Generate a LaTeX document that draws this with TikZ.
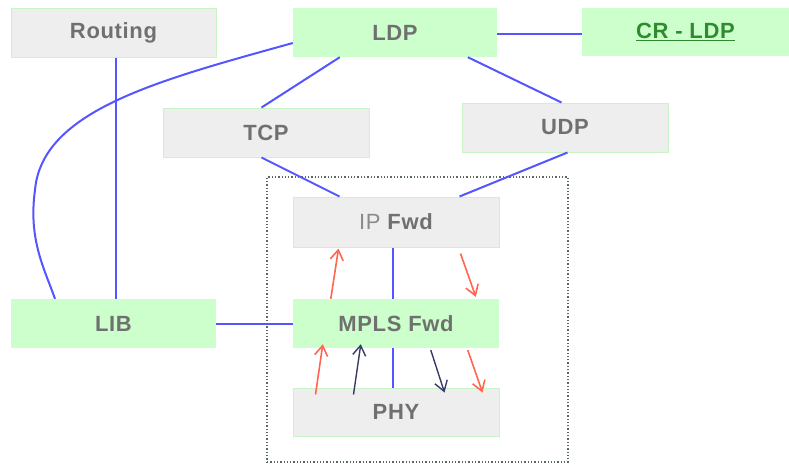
\documentclass[tikz,border=0pt]{standalone}
\usepackage{fontspec}
\setmainfont{Liberation Sans}
\usetikzlibrary{arrows.meta,calc}
\definecolor{boxgray}{HTML}{EEEEEE}
\definecolor{boxgreen}{HTML}{CCFFCC}
\definecolor{edgegreen}{HTML}{C8F5C8}
\definecolor{txtgray}{HTML}{707070}
\definecolor{lnblue}{HTML}{5555FF}
\definecolor{arred}{HTML}{FF6650}
\definecolor{arnavy}{HTML}{3A3A6A}
\definecolor{crgreen}{HTML}{2E8B2E}
\definecolor{framecol}{HTML}{5A6A5A}
\tikzset{
  basebox/.style={rectangle, inner sep=0pt, minimum width=205pt, minimum height=49pt,
    font=\fontsize{22}{26}\selectfont\bfseries\addfontfeatures{LetterSpace=3}, text=txtgray},
  graybox/.style={basebox, fill=boxgray, draw=edgegreen, line width=1pt},
  greenbox/.style={basebox, fill=boxgreen},
  link/.style={draw=lnblue, line width=2pt},
  redarrow/.style={draw=arred, line width=1.6pt, -{Straight Barb[length=10pt,width=13pt]}},
  navyarrow/.style={draw=arnavy, line width=1.4pt, -{Straight Barb[length=10pt,width=13pt]}},
  framebox/.style={rectangle, draw=framecol, dotted, line width=1.3pt, inner sep=0pt}
}
\begin{document}
\begin{tikzpicture}[x=1pt,y=-1pt]
\useasboundingbox (0,0) rectangle (789,463);
\node[framebox, minimum width=301pt, minimum height=285pt] (frame) at (417.5,319.5) {};
\node[graybox] (Routing) at (113.5,32.5) {Routing};
\node[greenbox, minimum width=204pt] (LDP) at (395,32.5) {LDP};
\node[greenbox, minimum width=207pt, minimum height=48pt, text=crgreen] (CRLDP) at (685.5,32) {\underline{CR - LDP}};
\node[graybox, minimum width=206pt] (TCP) at (266,132.5) {TCP};
\node[graybox, minimum width=206pt] (UDP) at (565,127.5) {UDP};
\node[graybox, minimum width=206pt, minimum height=50pt] (IP) at (396,222) {{\mdseries\color[HTML]{8A8A8A}IP} Fwd};
\node[greenbox, minimum width=206pt] (MPLS) at (396,323.5) {MPLS Fwd};
\node[graybox, minimum width=206pt, minimum height=48pt] (PHY) at (396,412) {PHY};
\node[greenbox] (LIB) at (113.5,323.5) {LIB};

% connectors
\draw[link] ($(Routing.south)+(2.5,0)$) -- ($(LIB.north)+(2.5,0)$);
\draw[link] ($(LDP.west)+(0,10.5)$) .. controls (160,80) and (42,110) .. (35,190)
   .. controls (28,240) and (45,270) .. ($(LIB.north)+(-58.5,0)$);
\draw[link] ($(LDP.south west)+(47,0)$) -- ($(TCP.north west)+(99,0)$);
\draw[link] ($(LDP.south west)+(175,0)$) -- ($(UDP.north west)+(100,0)$);
\draw[link] ($(LDP.east)+(0,1.5)$) -- ($(CRLDP.west)+(0,2)$);
\draw[link] ($(TCP.south west)+(99,0)$) -- ($(IP.north west)+(47,0)$);
\draw[link] ($(UDP.south west)+(106,0)$) -- ($(IP.north west)+(167,0)$);
\draw[link] ($(IP.south)+(-3,0)$) -- ($(MPLS.north)+(-3,0)$);
\draw[link] ($(MPLS.south)+(-3,0)$) -- ($(PHY.north)+(-3,0)$);
\draw[link] (LIB.east) -- (MPLS.west);

% arrows
\draw[redarrow] ($(MPLS.north west)+(38,0)$) -- ($(IP.south west)+(46,1)$);
\draw[redarrow] ($(IP.south west)+(168,6)$) -- ($(MPLS.north west)+(183,-2)$);
\draw[redarrow] ($(PHY.north west)+(23,7)$) -- ($(MPLS.south west)+(30,-4)$);
\draw[navyarrow] ($(PHY.north west)+(61,7)$) -- ($(MPLS.south west)+(68,-4)$);
\draw[navyarrow] ($(MPLS.south west)+(138,2)$) -- ($(PHY.north west)+(152,5)$);
\draw[redarrow] ($(MPLS.south west)+(175,2)$) -- ($(PHY.north west)+(190,5)$);
\end{tikzpicture}
\end{document}
